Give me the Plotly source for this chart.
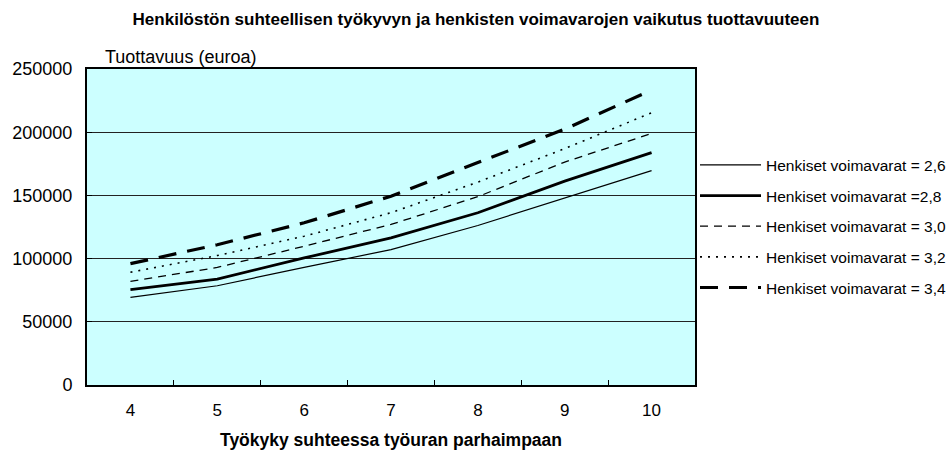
import plotly.graph_objects as go

# Työkyky-luokat (x-akseli)
categories = ["4", "5", "6", "7", "8", "9", "10"]

# Tuottavuus (euroa) eri henkisten voimavarojen tasoilla
voimavarat_26 = [69300, 78500, 93100, 107100, 126200, 148200, 169600]
voimavarat_28 = [75400, 83800, 100500, 116400, 136300, 161300, 183900]
voimavarat_30 = [82000, 93000, 109800, 127000, 149000, 176400, 199000]
voimavarat_32 = [89200, 102400, 117700, 136300, 160500, 187000, 215400]
voimavarat_34 = [96000, 111000, 128300, 149400, 176000, 202400, 233300]

series_names = [
    "Henkiset voimavarat = 2,6",
    "Henkiset voimavarat =2,8",
    "Henkiset voimavarat = 3,0",
    "Henkiset voimavarat = 3,2",
    "Henkiset voimavarat = 3,4",
]

FONT = "Liberation Sans, Arial, sans-serif"

styles = [
    dict(width=1.2, dash="solid"),
    dict(width=2.8, dash="solid"),
    dict(width=1.3, dash="8px,6px"),
    dict(width=1.6, dash="2px,6px"),
    dict(width=3.2, dash="18px,11px"),
]

fig = go.Figure()
for i, (name, values, st) in enumerate(zip(
        series_names,
        [voimavarat_26, voimavarat_28, voimavarat_30, voimavarat_32, voimavarat_34],
        styles)):
    fig.add_trace(go.Scatter(
        x=categories, y=values, mode="lines", name=name,
        legendgroup=f"g{i}",
        line=dict(color="black", width=st["width"], dash=st["dash"]),
    ))

fig.update_layout(
    width=952, height=454,
    margin=dict(l=87, r=257, t=69, b=69, autoexpand=False),
    paper_bgcolor="white",
    plot_bgcolor="#CCFFFF",
    font=dict(family=FONT, size=16, color="black"),
    title=dict(
        text="<b>Henkilöstön suhteellisen työkyvyn ja henkisten voimavarojen vaikutus tuottavuuteen</b>",
        x=0.5, xanchor="center", y=1 - 19 / 454, yanchor="middle",
        font=dict(family=FONT, size=17),
    ),
    legend=dict(
        x=1.0, xanchor="left", y=0.749, yanchor="top",
        font=dict(family=FONT, size=15.5),
        tracegroupgap=7.5,
        itemwidth=61,
        bgcolor="rgba(0,0,0,0)",
    ),
    showlegend=True,
)

fig.update_xaxes(
    type="category", range=[-0.5, 6.5], automargin=False,
    showline=True, linecolor="black", linewidth=2, mirror=True,
    ticks="inside", ticklen=5, tickcolor="black", tickson="boundaries",
    showgrid=False,
    tickfont=dict(size=17), ticklabelstandoff=9,
    title=dict(text="<b>Työkyky suhteessa työuran parhaimpaan</b>",
               font=dict(family=FONT, size=17.5), standoff=14),
)

fig.update_yaxes(
    range=[0, 250000], automargin=False,
    tickvals=[0, 50000, 100000, 150000, 200000, 250000],
    ticktext=["0", "50000", "100000", "150000", "200000", "250000"],
    showline=True, linecolor="black", linewidth=2, mirror=True,
    ticks="inside", ticklen=5, tickcolor="black",
    showgrid=True, gridcolor="#222222", gridwidth=1,
    zeroline=False,
    tickfont=dict(size=18), ticklabelstandoff=9,
)

fig.add_annotation(
    text="Tuottavuus (euroa)", xref="paper", yref="paper",
    x=0.026, y=1.0, xanchor="left", yanchor="bottom",
    showarrow=False, font=dict(family=FONT, size=18),
)

# sivun oletusmarginaali pois, jotta kuva osuu ikkunan reunaan
fig.write_html("out.html", config={"displayModeBar": False},
               post_script="document.body.style.margin='0';")
